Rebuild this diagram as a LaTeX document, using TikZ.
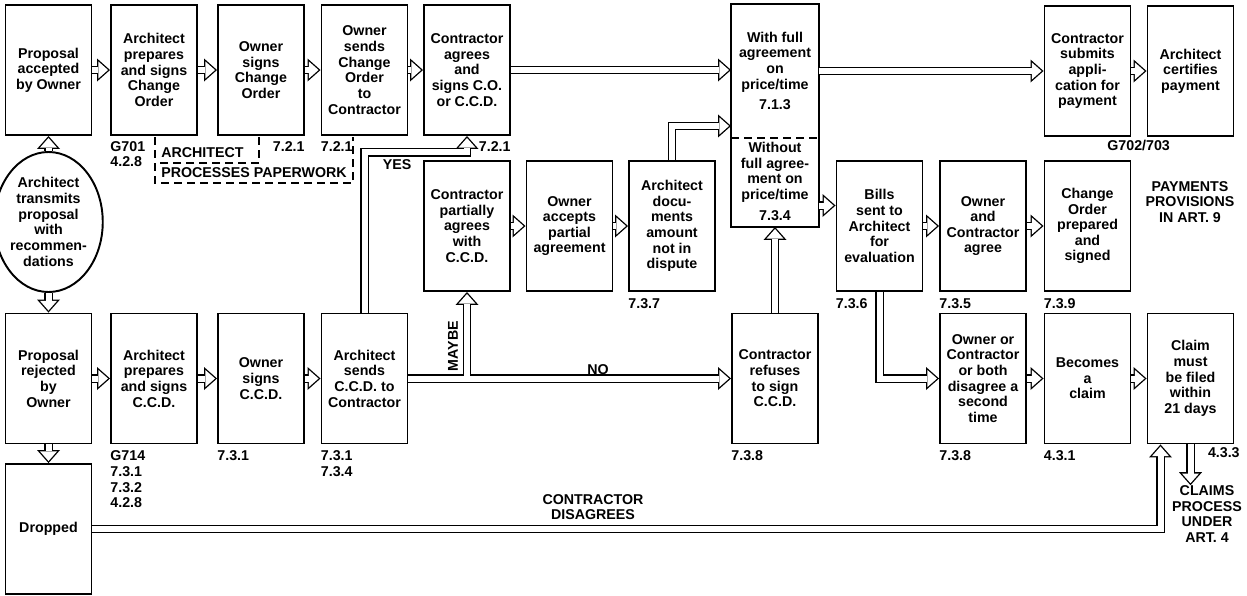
\documentclass[tikz,border=0pt]{standalone}
\usepackage{fontspec}
\setmainfont{Liberation Sans}
\usetikzlibrary{arrows.meta,shapes.geometric}
\tikzset{stage/.style={draw,line width=1.1pt,minimum width=17.2mm,minimum height=26mm,align=center,inner sep=1pt},
  oval/.style={ellipse,draw,line width=1.1pt,minimum width=18.4mm,minimum height=28mm,align=center,inner sep=0pt},
  % hollow block arrow: black outline drawn first, white core on top
  hollow/.style={draw=white,line width=1.2mm,shorten >=.4mm,
    -{Triangle[length=1.94mm,width=3.42mm,line width=0pt]},
    preaction={draw=black,line width=1.73mm,shorten >=0pt,
      -{Triangle[length=2.6mm,width=4.6mm,line width=0pt]}}},
  tag/.style={align=left,inner sep=0pt},
  note/.style={align=center,inner sep=0pt},
  paper/.style={dash pattern=on 1.6mm off 1mm,line width=.8pt}}

\begin{document}
\begin{tikzpicture}[x=.2mm,y=-.2mm,font=\bfseries\fontsize{8.1}{8.9}\selectfont]
\useasboundingbox (0,0) rectangle (1247,595);
% accepted path
\node[stage] (acc) at (48.5,70) {Proposal\\accepted\\by Owner};
\node[stage] (prepco) at (154,70) {Architect\\prepares\\and signs\\Change\\Order};
\node[stage] (own1) at (261,70) {Owner\\signs\\Change\\Order};
\node[stage] (send1) at (364.5,70) {Owner\\sends\\Change\\Order\\to\\Contractor};
\node[stage] (agree5) at (467,70) {Contractor\\agrees\\and\\signs C.O.\\or C.C.D.};
\node[stage,draw=none,minimum height=26.4mm] (full) at (775,71) {With full\\agreement\\on\\price/time\\[3pt]7.1.3};
\node[stage,draw=none,minimum height=17.8mm] (partfull) at (775,181.5) {Without\\full agree-\\ment on\\price/time\\[3pt]7.3.4};
\draw[line width=1.1pt] (full.north west) rectangle (partfull.south east);
\draw[line width=1.1pt,dash pattern=on 1.6mm off 1mm] (full.south west) -- (full.south east);
\node[stage] (csub) at (1087.5,71) {Contractor\\submits\\appli-\\cation for\\payment};
\node[stage] (acert) at (1190.5,71) {Architect\\certifies\\payment};
% middle row
\node[stage] (partial) at (467,226) {Contractor\\partially\\agrees\\with\\C.C.D.};
\node[stage] (ownacc) at (569.5,226) {Owner\\accepts\\partial\\agreement};
\node[stage] (archdoc) at (672,226) {Architect\\docu-\\ments\\amount\\not in\\dispute};
\node[stage] (bills) at (879.5,226) {Bills\\sent to\\Architect\\for\\evaluation};
\node[stage] (agree2) at (983,226) {Owner\\and\\Contractor\\agree};
\node[stage] (coprep) at (1087.5,226) {Change\\Order\\prepared\\and\\signed};
\node[oval] (trans) at (48.5,222) {Architect\\transmits\\proposal\\with\\recommen-\\dations};
% rejected path
\node[stage] (rej) at (48.5,378.5) {Proposal\\rejected\\by\\Owner};
\node[stage] (prepccd) at (154,378.5) {Architect\\prepares\\and signs\\C.C.D.};
\node[stage] (own2) at (261,378.5) {Owner\\signs\\C.C.D.};
\node[stage] (send2) at (364.5,378.5) {Architect\\sends\\C.C.D. to\\Contractor};
\node[stage] (refuse) at (775,378.5) {Contractor\\refuses\\to sign\\C.C.D.};
\node[stage] (disagree) at (983,378.5) {Owner or\\Contractor\\or both\\disagree a\\second\\time};
\node[stage] (claim) at (1087.5,378.5) {Becomes\\a\\claim};
\node[stage] (filed) at (1190.5,378.5) {Claim\\must\\be filed\\within\\21 days};
\node[stage] (dropped) at (48.5,529) {Dropped};
\node[note] (pay) at (1190,202) {PAYMENTS\\PROVISIONS\\IN ART. 9};
\node[note] (claims) at (1207,514) {CLAIMS\\PROCESS\\UNDER\\ART. 4};

% connectors
\draw[hollow] (acc) -- (prepco);
\draw[hollow] (prepco) -- (own1);
\draw[hollow] (own1) -- (send1);
\draw[hollow] (send1) -- (agree5);
\draw[hollow] (agree5.east) -- (agree5.east -| full.west);
\draw[hollow] (full.east) -- (full.east -| csub.west);
\draw[hollow] (csub) -- (acert);
\draw[hollow] (partial) -- (ownacc);
\draw[hollow] (ownacc) -- (archdoc);
\draw[hollow] (archdoc.north) |- ([yshift=2.4mm]full.south west);
\draw[hollow] ([yshift=-4.8mm]partfull.east) -- ([yshift=-4.8mm]partfull.east -| bills.west);
\draw[hollow] (bills) -- (agree2);
\draw[hollow] (agree2) -- (coprep);
\draw[hollow] (trans) -- (acc);
\draw[hollow] (trans) -- (rej);
\draw[hollow] (rej) -- (dropped);
\draw[hollow] (rej) -- (prepccd);
\draw[hollow] (prepccd) -- (own2);
\draw[hollow] (own2) -- (send2);
\draw[hollow] (send2) -- (refuse);
\draw[hollow] ([yshift=.6mm]partial.south |- send2.east) -- (partial.south);
\draw[hollow] (send2.north) |- ([yshift=-3.3mm]agree5.south) -- (agree5.south);
\draw[hollow] (refuse) -- (partfull);
\draw[hollow] (bills.south) |- (disagree.west);
\draw[hollow] (disagree) -- (claim);
\draw[hollow] (claim) -- (filed);
\draw[hollow] (dropped.east) -| ([xshift=-6mm]filed.south);
\draw[hollow] (filed.south) -- (filed.south |- claims.north);

% branch words
\node at (397,165) {YES};
\node[rotate=90] at (453,346) {MAYBE};
\node at (598,370) {NO};
\node[note] at (593,507) {CONTRACTOR\\DISAGREES};

% paperwork bracket
\draw[paper] (155,137) -- (155,183) -- (353,183) -- (353,137);
\draw[paper] (259,137) -- (259,163) -- (155,163);
\node[tag,anchor=west] at (161,153) {ARCHITECT};
\node[tag,anchor=west] at (161,173) {PROCESSES PAPERWORK};

% article references
\node[tag,anchor=north west] at ([yshift=-1mm]prepco.south west) {G701\\4.2.8};
\node[tag,anchor=north east] at ([yshift=-1mm]own1.south east) {7.2.1};
\node[tag,anchor=north west] at ([yshift=-1mm]send1.south west) {7.2.1};
\node[tag,anchor=north east] at ([yshift=-1mm]agree5.south east) {7.2.1};
\node[tag,anchor=north west] at (1107,140) {G702/703};
\node[tag,anchor=north west] at ([yshift=-1.2mm]archdoc.south west) {7.3.7};
\node[tag,anchor=north west] at ([yshift=-1.2mm]bills.south west) {7.3.6};
\node[tag,anchor=north west] at ([yshift=-1.2mm]agree2.south west) {7.3.5};
\node[tag,anchor=north west] at ([yshift=-1.2mm]coprep.south west) {7.3.9};
\node[tag,anchor=north west] at ([yshift=-1.2mm]prepccd.south west) {G714\\7.3.1\\7.3.2\\4.2.8};
\node[tag,anchor=north west] at ([yshift=-1.2mm]own2.south west) {7.3.1};
\node[tag,anchor=north west] at ([yshift=-1.2mm]send2.south west) {7.3.1\\7.3.4};
\node[tag,anchor=north west] at ([yshift=-1.2mm]refuse.south west) {7.3.8};
\node[tag,anchor=north west] at ([yshift=-1.2mm]disagree.south west) {7.3.8};
\node[tag,anchor=north west] at ([yshift=-1.2mm]claim.south west) {4.3.1};
\node[tag,anchor=north east] at (1240,447) {4.3.3};
\end{tikzpicture}
\end{document}
